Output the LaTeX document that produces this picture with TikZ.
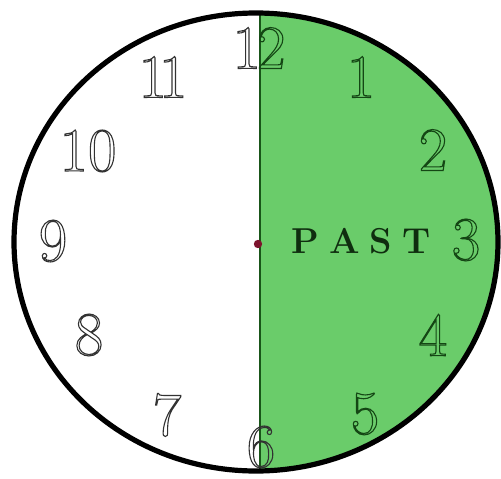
\documentclass[tikz,border=0pt]{standalone}
\usepackage{fontspec}
\usepackage{xcolor}
\definecolor{pastgreen}{RGB}{106,204,106}
\definecolor{divgreen}{RGB}{25,85,25}
\definecolor{hubred}{RGB}{125,20,45}
\definecolor{numgray}{RGB}{50,50,50}
\definecolor{numgreen}{RGB}{20,70,20}
\definecolor{pastink}{RGB}{15,45,15}
\newcommand{\hollow}[1]{\special{pdf:literal direct 1 Tr 1.1 w}#1\special{pdf:literal direct 0 Tr}}
\tikzset{
  hournum/.style={
    inner sep=0pt, text=numgray,
    font=\fontsize{62}{62}\selectfont
  },
  pastnum/.style={hournum, text=numgreen},
  pastlabel/.style={
    inner sep=0pt, text=pastink,
    font=\fontsize{36}{36}\selectfont\bfseries
  },
}

\begin{document}
\begin{tikzpicture}[x=1pt,y=-1pt]
\useasboundingbox (0,0) rectangle (501,479);

%% ── Face: green half and rim ─────────────────────────────────────────────
\coordinate (hub) at (258,244);
\begin{scope}
  \clip (256,242) ellipse [x radius=242, y radius=229];
  \fill[pastgreen] (260,0) rectangle (501,479);
\end{scope}
\draw[divgreen, line width=1.6pt] (260,13) -- (260,472);
\draw[line width=5.2pt] (256,242) ellipse [x radius=242, y radius=229];

%% ── Hour numbers ─────────────────────────────────────────────────────────
\node[hournum] (h12) at (259,48) {\hollow{1\kern-4pt\textcolor{numgreen}{2}}};
\node[pastnum] (h1) at (361,77) {\hollow{1}};
\node[pastnum] (h2) at (433,150) {\hollow{2}};
\node[pastnum] (h3) at (466,240) {\hollow{3}};
\node[pastnum] (h4) at (433,335) {\hollow{4}};
\node[pastnum] (h5) at (365,414) {\hollow{5}};
\node[hournum] (h6) at (261,447) {\hollow{6}};
\node[hournum] (h7) at (167,415) {\hollow{7}};
\node[hournum] (h8) at (89,335) {\hollow{8}};
\node[hournum] (h9) at (53,241) {\hollow{9}};
\node[hournum] (h10) at (88,151) {\hollow{10}};
\node[hournum] (h11) at (163,77) {\hollow{1\kern-8pt1}};

%% ── Centre dot and label ─────────────────────────────────────────────────
\fill[hubred] (hub) circle (4.2);
\node[pastlabel] (past) at (361,241)
  {P\kern10pt A\kern10pt S\kern10pt T};

\end{tikzpicture}
\end{document}
